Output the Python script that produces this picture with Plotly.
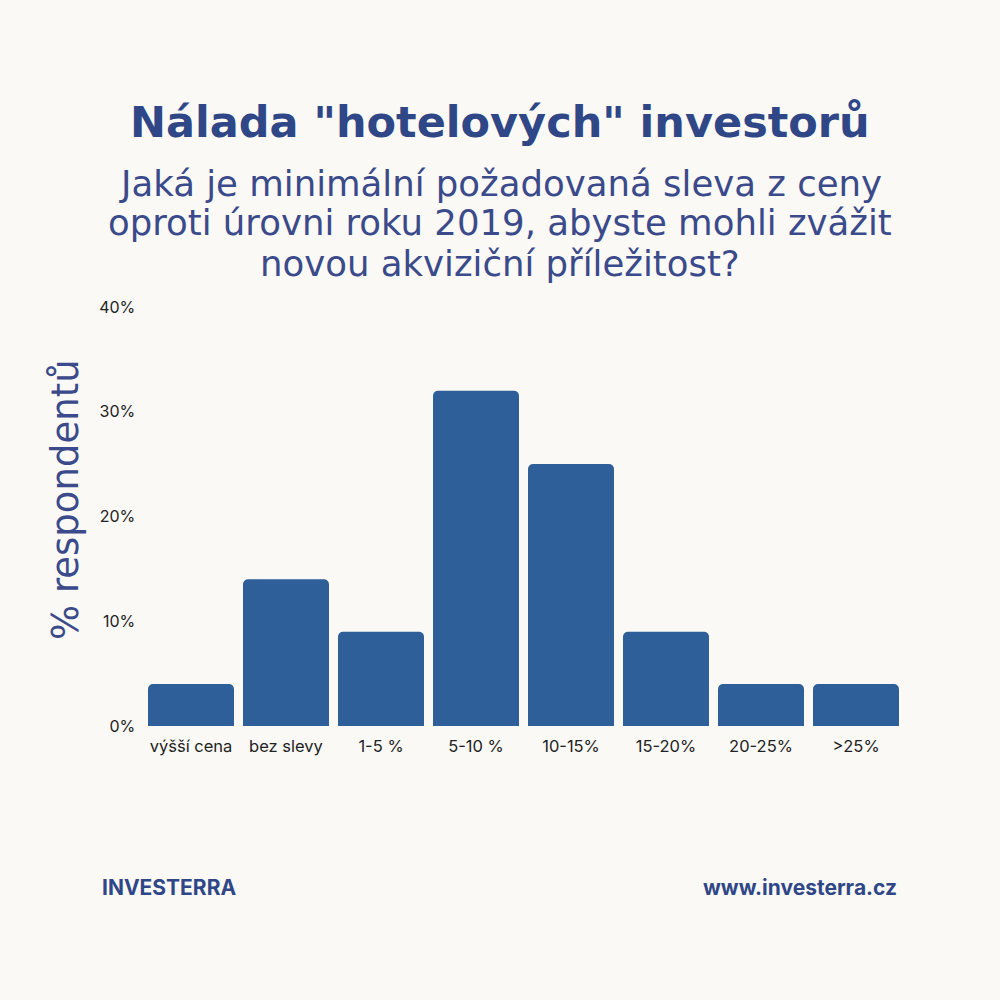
import plotly.graph_objects as go

## data
categories = ["výšší cena", "bez slevy", "1-5 %", "5-10 %", "10-15%", "15-20%", "20-25%", ">25%"]
shares = [4, 14, 9, 32, 25, 9, 4, 4]
y_ticks = [0, 10, 20, 30, 40]
y_tick_labels = ["0%", "10%", "20%", "30%", "40%"]

subtitle_lines = [
    "Jaká je minimální požadovaná sleva z ceny",
    "oproti úrovni roku 2019, abyste mohli zvážit",
    "novou akviziční příležitost?",
]

bg = "#faf9f6"
bar_color = "#2f5f98"
navy = "#2f4787"
sub_navy = "#3a4a8a"

fig = go.Figure()
fig.add_trace(
    go.Bar(
        x=categories,
        y=shares,
        marker_color=bar_color,
        marker_line_width=0,
        hoverinfo="x+y",
    )
)

fig.update_layout(
    width=1000,
    height=1000,
    margin=dict(l=0, r=0, t=0, b=0),
    paper_bgcolor=bg,
    plot_bgcolor=bg,
    showlegend=False,
    bargap=0.095,
    barcornerradius=5,
    font=dict(family="Inter", size=16, color="#222222"),
)

fig.update_xaxes(
    domain=[0.1435, 0.9035],
    showgrid=False,
    showline=False,
    zeroline=False,
    ticks="outside",
    ticklen=5,
    tickcolor="rgba(0,0,0,0)",
    tickfont=dict(family="Inter", size=16.5, color="#222222"),
    automargin=False,
)
fig.update_yaxes(
    domain=[0.274, 0.693],
    range=[0, 40],
    tickvals=y_ticks,
    ticktext=y_tick_labels,
    showgrid=False,
    showline=False,
    zeroline=False,
    ticks="outside",
    ticklen=4,
    tickcolor="rgba(0,0,0,0)",
    tickfont=dict(family="Inter", size=16, color="#222222"),
    automargin=False,
)

## title, subtitle, axis title and footer
fig.add_annotation(
    text="<b>Nálada \"hotelových\" investorů</b>",
    xref="paper", yref="paper", x=0.5, y=1 - 122 / 1000,
    xanchor="center", yanchor="middle", showarrow=False,
    font=dict(family="DejaVu Sans", size=43, color=navy),
)
for i, line in enumerate(subtitle_lines):
    fig.add_annotation(
        text=line,
        xref="paper", yref="paper", x=0.5, y=1 - (183 + 40 * i) / 1000,
        xanchor="center", yanchor="middle", showarrow=False,
        font=dict(family="DejaVu Sans", size=35.5, color=sub_navy),
    )
fig.add_annotation(
    text="% respondentů",
    xref="paper", yref="paper", x=65 / 1000, y=1 - 500 / 1000,
    xanchor="center", yanchor="middle", showarrow=False, textangle=-90,
    font=dict(family="DejaVu Sans", size=37, color=sub_navy),
)
fig.add_annotation(
    text="<b>INVESTERRA</b>",
    xref="paper", yref="paper", x=100 / 1000, y=1 - 887 / 1000,
    xanchor="left", yanchor="middle", showarrow=False,
    font=dict(family="Inter", size=21, color=navy),
)
fig.add_annotation(
    text="<b>www.investerra.cz</b>",
    xref="paper", yref="paper", x=899 / 1000, y=1 - 887 / 1000,
    xanchor="right", yanchor="middle", showarrow=False,
    font=dict(family="Inter", size=21, color=navy),
)

fig.write_html(
    "out.html",
    config={"displayModeBar": False},
    post_script="document.body.style.margin='0';",
)
